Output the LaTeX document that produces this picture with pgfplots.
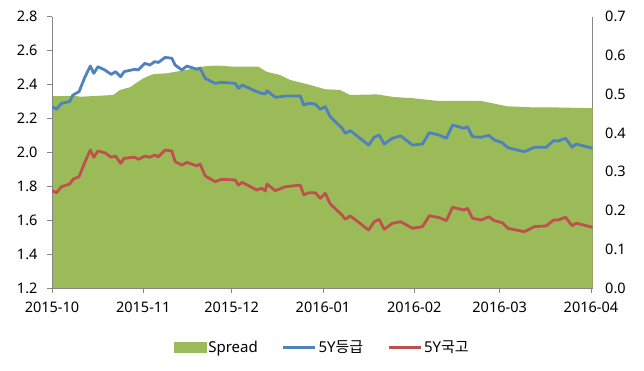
\documentclass[border=0pt]{standalone}
\usepackage{pgfplots}
\pgfplotsset{compat=1.18}
\usepackage{fontspec}
\setmainfont{Noto Sans}
\newfontfamily\kr{Noto Sans CJK KR}
\definecolor{cgreen}{HTML}{9BBB59}
\definecolor{cblue}{HTML}{4F81BD}
\definecolor{cred}{HTML}{C0504D}
\definecolor{caxis}{HTML}{868686}
\pgfplotsset{
  base/.style={
    scale only axis, width=540.7pt, height=271.3pt,
    xmin=0, xmax=183.6,
    axis line style={caxis, line width=0.8pt},
    tick style={caxis, line width=0.8pt},
    tick label style={font=\fontsize{14.5}{17}\selectfont, text=black},
    /pgf/number format/assume math mode=true,
    yticklabel style={/pgf/number format/fixed, /pgf/number format/fixed zerofill, /pgf/number format/precision=1},
  }
}
\begin{document}
\begin{tikzpicture}
\useasboundingbox (-52pt,-82pt) rectangle (592pt,288pt);
% secondary axis (spread) drawn first
\begin{axis}[base,
  axis y line*=right, axis x line=none,
  ymin=0, ymax=0.7, ytick={0,0.1,...,0.7},
  major tick length=0pt,
  yticklabel style={xshift=9pt},
]
\addplot[fill=cgreen, draw=none] coordinates {
(0,0.495)(8.5,0.495)(9.5,0.4935)(20.8,0.498)(23.1,0.511)(26.5,0.518)(31.0,0.541)(34.4,0.552)(39.0,0.554)(45.8,0.563)(50.3,0.571)(55.9,0.574)(61.6,0.571)(70.1,0.571)(72.9,0.558)(77.4,0.5495)(80.8,0.537)(87.6,0.524)(92.7,0.513)(97.8,0.511)(101.2,0.498)(110.3,0.4996)(115.9,0.493)(122.7,0.4896)(130.7,0.483)(145.4,0.483)(154.5,0.469)(163.5,0.466)(170.3,0.466)(183.6,0.464)
} \closedcycle;
\end{axis}
% primary axis
\begin{axis}[base,
  axis y line*=left, axis x line*=bottom,
  ymin=1.2, ymax=2.8, ytick={1.2,1.4,...,2.8},
  xtick={0,31,61,92,123,152,183},
  xticklabels={2015-10,2015-11,2015-12,2016-01,2016-02,2016-03,2016-04},
  major tick length=5pt,
  tick align=outside,
  yticklabel style={xshift=-6pt},
  xticklabel style={yshift=-5pt},
  legend columns=3,
  legend style={draw=none, fill=none, at={(0.5,-0.22)}, anchor=center,
    font=\fontsize{15}{18}\selectfont,
    /tikz/every even column/.append style={column sep=22pt}},
  legend cell align=left,
]
\addlegendimage{legend image code/.code={\fill[cgreen] (0pt,-5pt) rectangle (32pt,5pt);}}
\addlegendentry{Spread}
\addplot[cblue, line width=2.8pt, line join=round, mark=none,
  legend image code/.code={\draw[cblue, line width=2.8pt] (0pt,0pt) -- (32pt,0pt);}] coordinates {
(0,2.270)(1.5,2.254)(3.2,2.289)(6.0,2.300)(7.1,2.338)(9.2,2.358)(11.0,2.437)(13.0,2.509)(14.2,2.466)(15.6,2.505)(17.9,2.486)(20.1,2.460)(21.6,2.476)(23.3,2.446)(24.5,2.476)(28.1,2.490)(29.3,2.486)(31.5,2.525)(33.2,2.515)(34.9,2.535)(36.1,2.530)(38.4,2.560)(40.7,2.555)(41.8,2.515)(44.1,2.486)(45.8,2.509)(49.2,2.490)(50.3,2.496)(52.0,2.437)(55.4,2.407)(57.6,2.413)(62.2,2.407)(63.3,2.378)(64.6,2.397)(69.5,2.358)(71.2,2.348)(72.4,2.345)(73.0,2.364)(75.8,2.325)(79.2,2.332)(84.3,2.332)(85.5,2.279)(87.2,2.289)(89.4,2.285)(91.1,2.254)(92.8,2.269)(94.5,2.210)(98.5,2.142)(99.6,2.112)(101.3,2.128)(107.5,2.043)(109.4,2.089)(111.1,2.102)(112.8,2.049)(115.6,2.083)(118.4,2.097)(122.4,2.043)(125.8,2.049)(128.1,2.116)(131.5,2.102)(133.9,2.083)(136.0,2.161)(139.9,2.142)(141.1,2.151)(142.8,2.092)(145.7,2.089)(148.3,2.100)(150.2,2.073)(152.9,2.057)(154.8,2.027)(160.4,2.004)(163.8,2.030)(167.8,2.030)(170.3,2.069)(171.8,2.067)(174.4,2.083)(176.6,2.030)(178.0,2.049)(183.6,2.024)
};
\addlegendentry{5Y{\kr 등급}}
\addplot[cred, line width=2.8pt, line join=round, mark=none,
  legend image code/.code={\draw[cred, line width=2.8pt] (0pt,0pt) -- (32pt,0pt);}] coordinates {
(0,1.774)(1.5,1.762)(3.2,1.797)(6.0,1.813)(7.1,1.841)(9.2,1.857)(11.0,1.935)(13.0,2.014)(14.2,1.971)(15.6,2.008)(17.9,1.998)(20.1,1.971)(21.6,1.978)(23.3,1.935)(24.5,1.965)(28.1,1.971)(29.3,1.959)(31.5,1.978)(33.2,1.971)(34.9,1.984)(36.1,1.974)(38.4,2.014)(40.7,2.008)(41.8,1.945)(44.1,1.925)(45.8,1.941)(49.2,1.920)(50.3,1.931)(52.0,1.861)(55.4,1.827)(57.6,1.841)(62.2,1.837)(63.3,1.807)(64.6,1.823)(69.5,1.778)(71.2,1.788)(72.4,1.772)(73.0,1.813)(75.8,1.774)(79.2,1.797)(84.3,1.807)(85.5,1.749)(87.2,1.762)(89.4,1.762)(91.1,1.729)(92.8,1.759)(94.5,1.695)(98.5,1.630)(99.6,1.605)(101.3,1.625)(107.5,1.542)(109.4,1.591)(111.1,1.605)(112.8,1.546)(115.6,1.582)(118.4,1.591)(122.4,1.552)(125.8,1.562)(128.1,1.626)(131.5,1.615)(133.9,1.597)(136.0,1.676)(139.9,1.660)(141.1,1.670)(142.8,1.611)(145.7,1.601)(148.3,1.620)(150.2,1.597)(152.9,1.585)(154.8,1.552)(160.4,1.532)(163.8,1.562)(167.8,1.566)(170.3,1.601)(171.8,1.601)(174.4,1.617)(176.6,1.567)(178.0,1.582)(183.6,1.558)
};
\addlegendentry{5Y{\kr 국고}}
\end{axis}
\end{tikzpicture}
\end{document}
